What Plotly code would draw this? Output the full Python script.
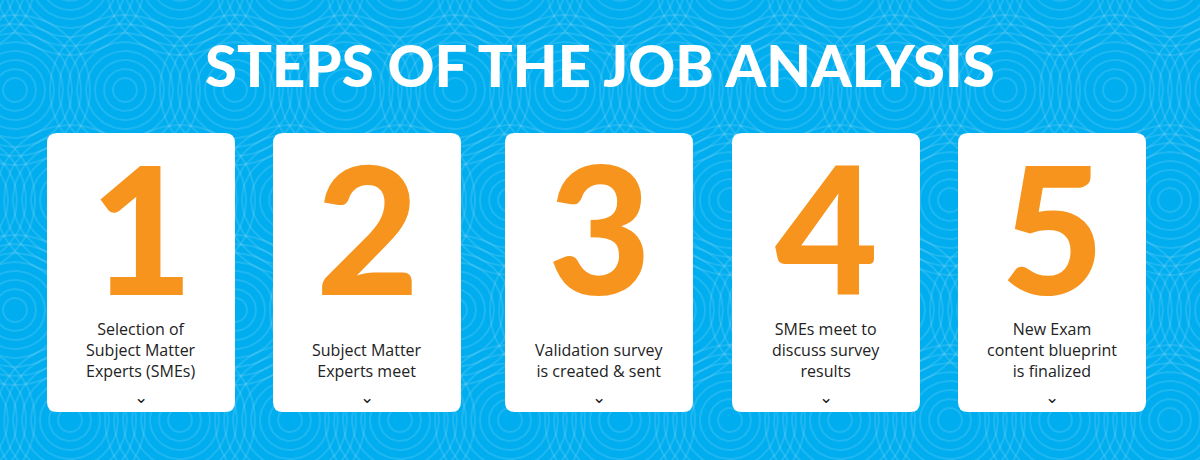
import numpy as np
import plotly.graph_objects as go

title = "STEPS OF THE JOB ANALYSIS"
steps = ["1", "2", "3", "4", "5"]
labels = ["Selection of<br>Subject Matter<br>Experts (SMEs)",
          "Subject Matter<br>Experts meet",
          "Validation survey<br>is created & sent",
          "SMEs meet to<br>discuss survey<br>results",
          "New Exam<br>content blueprint<br>is finalized"]
card_left = [47, 273, 505, 732, 958]
card_w, card_top, card_bot = 188, 133, 412

W, H = 1200, 460
fig = go.Figure()

xs, ys = [], []
t = np.linspace(0, 2*np.pi, 60)
for j, cy in enumerate(range(-20, 520, 110)):
    for cx in range(-40 + (55 if j % 2 else 0), 1260, 110):
        for r in range(12, 80, 9):
            xs += list(cx + r*np.cos(t)) + [None]
            ys += list(cy + r*np.sin(t)) + [None]
fig.add_trace(go.Scatter(x=xs, y=ys, mode="lines", line=dict(color="rgba(255,255,255,0.12)", width=2),
                         hoverinfo="skip", showlegend=False))

def rrect(x0, y0, x1, y1, r):
    return (f"M{x0+r},{y0} L{x1-r},{y0} Q{x1},{y0} {x1},{y0+r} L{x1},{y1-r} Q{x1},{y1} {x1-r},{y1} "
            f"L{x0+r},{y1} Q{x0},{y1} {x0},{y1-r} L{x0},{y0+r} Q{x0},{y0} {x0+r},{y0} Z")

shapes, ann = [], []
for s, lab, x0 in zip(steps, labels, card_left):
    cx = x0 + card_w/2
    shapes.append(dict(type="path", path=rrect(x0, card_top, x0+card_w, card_bot, 10),
                       fillcolor="white", line=dict(width=0), xref="x", yref="y", layer="above"))
    ann.append(dict(x=cx, y=226, text=s, showarrow=False, xanchor="center", yanchor="middle",
                    font=dict(family="Lato", size=178, color="#F7941D", weight=900)))
    ann.append(dict(x=cx, y=384, text=lab, showarrow=False, xanchor="center", yanchor="bottom",
                    font=dict(family="Open Sans", size=16, color="#222222")))
    ann.append(dict(x=cx, y=397, text="⌄", showarrow=False, xanchor="center", yanchor="middle",
                    font=dict(family="DejaVu Sans", size=17, color="#222222")))
ann.append(dict(x=W/2, y=64, text=title, showarrow=False, xanchor="center", yanchor="middle",
                font=dict(family="Lato", size=58, color="white", weight=900)))

fig.update_layout(width=W, height=H, margin=dict(l=0, r=0, t=0, b=0),
                  paper_bgcolor="#00AEEF", plot_bgcolor="#00AEEF",
                  xaxis=dict(range=[0, W], visible=False, fixedrange=True),
                  yaxis=dict(range=[H, 0], visible=False, fixedrange=True),
                  shapes=shapes, annotations=ann)
fig.write_html("out.html", config={"displayModeBar": False},
               post_script="document.body.style.margin='0';document.body.style.background='#00AEEF';")
